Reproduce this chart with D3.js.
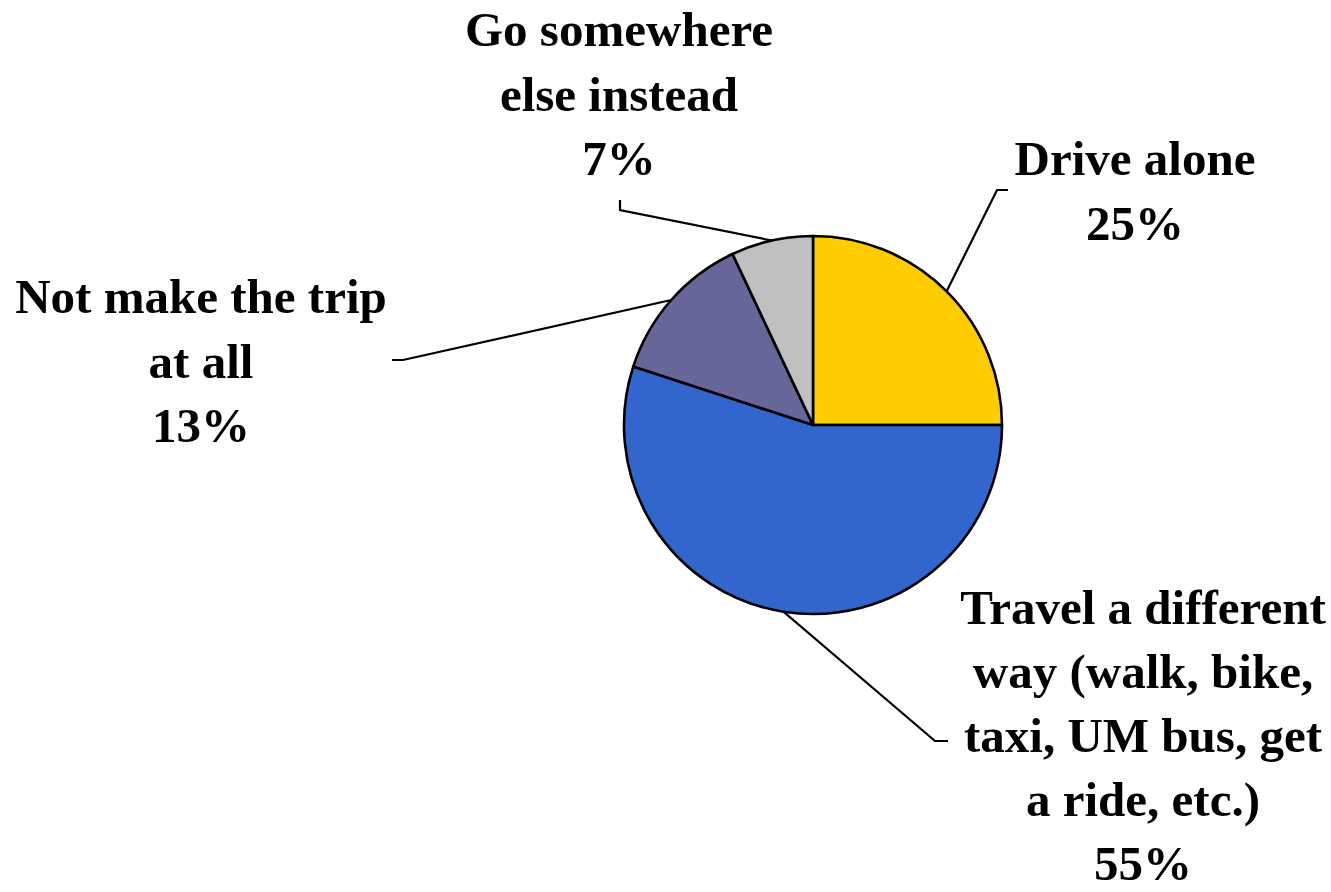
<!DOCTYPE html>
<html>
<head>
<meta charset="utf-8">
<script src="https://cdn.jsdelivr.net/npm/d3@7"></script>
<style>
  html, body { margin: 0; padding: 0; background: #fff; }
  svg { display: block; }
  .lbl { font-family: "Liberation Serif", "Times New Roman", serif; font-weight: bold; font-size: 49px; fill: #000; }
</style>
</head>
<body>
<svg id="chart" width="1331" height="892"></svg>
<script>
// Survey answers: what respondents would do instead
const categories = [
  "Drive alone",
  "Travel a different way (walk, bike, taxi, UM bus, get a ride, etc.)",
  "Not make the trip at all",
  "Go somewhere else instead"
];
const values = [25, 55, 13, 7];
// Wrapped label text for each category
const labelLines = [
  ["Drive alone"],
  ["Travel a different", "way (walk, bike,", "taxi, UM bus, get", "a ride, etc.)"],
  ["Not make the trip", "at all"],
  ["Go somewhere", "else instead"]
];
const colors = ["#FFCC00", "#3366CC", "#666699", "#C0C0C0"];

// Label placement: text centre, first baseline, line step, leader elbow and tail end
const labelLayout = [
  { cx: 1135, top: 175, step: 64.5, elbow: [997, 190], tail: [1008, 190] },
  { cx: 1143, top: 624, step: 64,   elbow: [935, 741], tail: [948, 741] },
  { cx: 201,  top: 313, step: 64.5, elbow: [403, 360], tail: [392, 360] },
  { cx: 619,  top: 46,  step: 64.5, elbow: [620, 210], tail: [620, 200] }
];

const cx = 813, cy = 425, R = 189;

const svg = d3.select("#chart");
const g = svg.append("g").attr("transform", `translate(${cx},${cy})`);

const pie = d3.pie().sort(null).value(d => d)(values);
const arc = d3.arc().innerRadius(0).outerRadius(R);
const edge = d3.arc().innerRadius(R).outerRadius(R);

g.selectAll("path.slice")
  .data(pie)
  .join("path")
  .attr("class", "slice")
  .attr("d", arc)
  .attr("fill", (d, i) => colors[i])
  .attr("stroke", "#000")
  .attr("stroke-width", 2.6)
  .attr("stroke-linejoin", "round");

// Leader lines from the slice edge to each label
svg.selectAll("path.leader")
  .data(pie)
  .join("path")
  .attr("class", "leader")
  .attr("fill", "none")
  .attr("stroke", "#000")
  .attr("stroke-width", 2.2)
  .attr("d", (d, i) => {
    const [ex, ey] = edge.centroid(d);
    const L = labelLayout[i];
    return d3.line()([[cx + ex, cy + ey], L.elbow, L.tail]);
  });

// Category labels with percentage on the last line
const fmt = v => `${v}%`;
const labels = svg.selectAll("text.lbl")
  .data(pie)
  .join("text")
  .attr("class", "lbl")
  .attr("text-anchor", "middle");

labels.each(function (d, i) {
  const L = labelLayout[i];
  const lines = labelLines[i].concat([fmt(values[i])]);
  d3.select(this).selectAll("tspan")
    .data(lines)
    .join("tspan")
    .attr("x", L.cx)
    .attr("y", (s, k) => L.top + k * L.step)
    .text(s => s);
});
</script>
</body>
</html>
